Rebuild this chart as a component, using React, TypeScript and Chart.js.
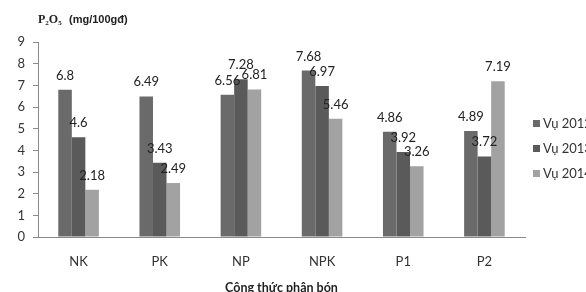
import React, { useEffect, useRef } from "react";
import { Chart, registerables } from "chart.js";

Chart.register(...registerables);

const categories = ["NK", "PK", "NP", "NPK", "P1", "P2"];
const seriesNames = ["Vụ 2012", "Vụ 2013", "Vụ 2014"];
const vu2012 = [6.8, 6.49, 6.56, 7.68, 4.86, 4.89];
const vu2013 = [4.6, 3.43, 7.28, 6.97, 3.92, 3.72];
const vu2014 = [2.18, 2.49, 6.81, 5.46, 3.26, 7.19];
const seriesColors = ["#6a6a6a", "#5a5a5a", "#a2a2a2"];
const yTicks = [0, 1, 2, 3, 4, 5, 6, 7, 8, 9];
const xTitle = "Công thức phân bón";

const labelPlugin = {
  id: "customText",
  afterDatasetsDraw(chart: any) {
    const ctx = chart.ctx;
    ctx.save();
    ctx.fillStyle = "#222";
    ctx.font = "13px Lato";
    ctx.textAlign = "center";
    ctx.textBaseline = "alphabetic";
    chart.data.datasets.forEach((ds: any, i: number) => {
      const meta = chart.getDatasetMeta(i);
      meta.data.forEach((bar: any, j: number) => {
        ctx.fillText(String(ds.data[j]), bar.x, bar.y - 10);
      });
    });
    // legend
    ctx.textAlign = "left";
    ctx.textBaseline = "middle";
    const ys = [123, 148, 173];
    seriesNames.forEach((n, i) => {
      ctx.fillStyle = seriesColors[i];
      ctx.fillRect(533, ys[i] - 3, 7, 7);
      ctx.fillStyle = "#333";
      ctx.font = "13px Lato";
      ctx.fillText(n, 543, ys[i] + 0.5);
    });
    // y title with subscripts
    ctx.fillStyle = "#222";
    ctx.textBaseline = "alphabetic";
    let x = 38;
    const base = 23;
    ctx.font = "bold 12px 'Liberation Serif'";
    ctx.fillText("P", x, base);
    x += ctx.measureText("P").width;
    ctx.font = "bold 7px 'Liberation Serif'";
    ctx.fillText("2", x, base + 2);
    x += ctx.measureText("2").width;
    ctx.font = "bold 12px 'Liberation Serif'";
    ctx.fillText("O", x, base);
    x += ctx.measureText("O").width;
    ctx.font = "bold 7px 'Liberation Serif'";
    ctx.fillText("5", x, base + 2);
    ctx.font = "bold 11px 'Liberation Sans'";
    ctx.fillText("(mg/100gđ)", 69, base);
    // x title
    ctx.font = "bold 12.5px Lato";
    ctx.textAlign = "center";
    ctx.textBaseline = "top";
    ctx.fillText(xTitle, (chart.chartArea.left + chart.chartArea.right) / 2, 282);
    ctx.restore();
  },
};

export default function App() {
  const ref = useRef<HTMLCanvasElement>(null);
  useEffect(() => {
    document.body.style.margin = "0";
    const chart = new Chart(ref.current as HTMLCanvasElement, {
      type: "bar",
      data: {
        labels: categories,
        datasets: [vu2012, vu2013, vu2014].map((d, i) => ({
          label: seriesNames[i],
          data: d,
          backgroundColor: seriesColors[i],
          borderWidth: 0,
          categoryPercentage: 0.5,
          barPercentage: 1.0,
        })),
      },
      options: {
        responsive: false,
        animation: false,
        layout: { padding: { top: 42, right: 61, left: 0, bottom: 0 } },
        plugins: { legend: { display: false }, tooltip: { enabled: false }, title: { display: false } },
        scales: {
          x: {
            grid: { display: false, drawTicks: false },
            border: { color: "#8a8a8a", width: 1 },
            ticks: { font: { family: "Lato", size: 13 }, color: "#333", padding: 17 },
            afterFit: (s: any) => { s.height = 55; },
          },
          y: {
            min: 0,
            max: 9,
            afterBuildTicks: (s: any) => { s.ticks = yTicks.map((v) => ({ value: v })); },
            grid: { drawOnChartArea: false, tickLength: 5, color: "#8a8a8a" },
            border: { color: "#8a8a8a", width: 1 },
            ticks: { font: { family: "Lato", size: 13 }, color: "#333", padding: 8 },
            afterFit: (s: any) => { s.width = 38; },
          },
        },
      },
      plugins: [labelPlugin],
    });
    return () => chart.destroy();
  }, []);
  return (
    <div style={{ position: "absolute", left: 0, top: 0, width: 586, height: 292, background: "#fff" }}>
      <canvas ref={ref} width={586} height={292} />
    </div>
  );
}
